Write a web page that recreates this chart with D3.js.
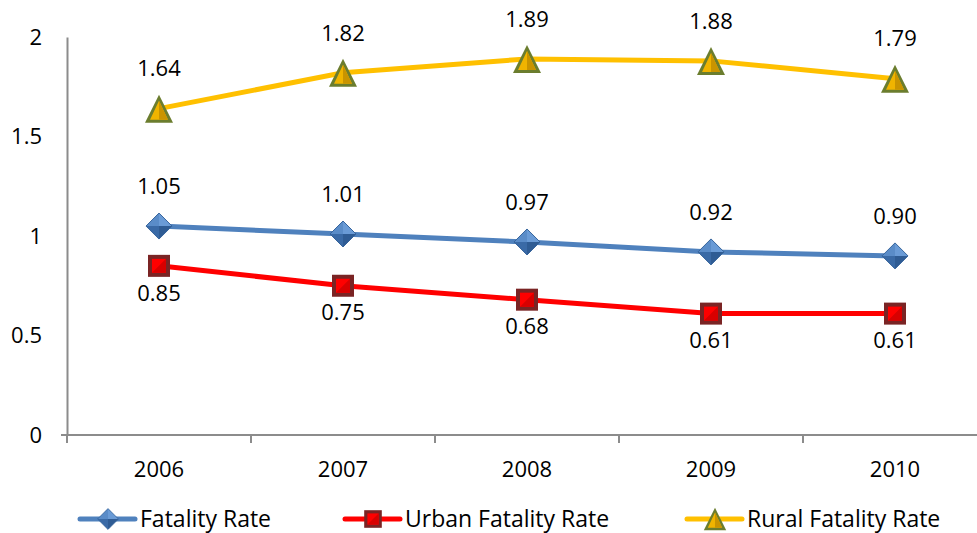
<!DOCTYPE html>
<html lang="en">
<head>
  <meta charset="UTF-8">
  <title>Fatality Rate</title>
  <script src="https://d3js.org/d3.v7.min.js"></script>
  <style>
    body { margin: 0; background: #fff; }
    text { font-family: 'Open Sans', 'Noto Sans', sans-serif; fill: #000; }
  </style>
</head>
<body>
<div class="canvas"></div>
<script>
  const years = ['2006', '2007', '2008', '2009', '2010']
  const fatality = [1.05, 1.01, 0.97, 0.92, 0.90]
  const urban = [0.85, 0.75, 0.68, 0.61, 0.61]
  const rural = [1.64, 1.82, 1.89, 1.88, 1.79]
  const yTicks = [0, 0.5, 1, 1.5, 2]

  const width = 977, height = 533

  const svg = d3.select('.canvas')
    .append('svg')
    .attr('width', width)
    .attr('height', height)

  const x = d3.scaleBand().domain(years).range([67, 987])
  const y = d3.scaleLinear().domain([0, 2]).range([435, 37])
  const cx = d => x(d) + x.bandwidth() / 2

  // axes
  const xAxis = svg.append('g')
    .attr('transform', 'translate(0,435)')
    .call(d3.axisBottom(x).tickSize(0).tickPadding(26))
  xAxis.select('.domain').attr('stroke', '#8c8c8c').attr('stroke-width', 2)
    .attr('d', 'M67,0H977')
  xAxis.selectAll('text').style('font-size', '22px')
  // tick marks at category boundaries
  xAxis.selectAll('.bound')
    .data(years)
    .enter()
    .append('line')
    .attr('x1', d => x(d)).attr('x2', d => x(d))
    .attr('y1', 0).attr('y2', 8)
    .attr('stroke', '#8c8c8c').attr('stroke-width', 2)

  const yAxis = svg.append('g')
    .attr('transform', 'translate(67,0)')
    .call(d3.axisLeft(y).tickValues(yTicks).tickFormat(d3.format('')).tickSize(0).tickPadding(25))
  yAxis.select('.domain').attr('stroke', '#8c8c8c').attr('stroke-width', 2)
  yAxis.selectAll('text').style('font-size', '22px')
  yAxis.append('line').attr('x1', -6).attr('x2', 0).attr('y1', 435).attr('y2', 435)
    .attr('stroke', '#8c8c8c').attr('stroke-width', 2)

  // marker drawers
  function diamond(g) {
    const r = 13
    g.append('path').attr('d', `M0,${-r}L${r},0L0,0Z`).attr('fill', '#6a9bd6')
    g.append('path').attr('d', `M${r},0L0,${r}L0,0Z`).attr('fill', '#2f5c94')
    g.append('path').attr('d', `M0,${r}L${-r},0L0,0Z`).attr('fill', '#3a6aa6')
    g.append('path').attr('d', `M${-r},0L0,${-r}L0,0Z`).attr('fill', '#5a8cc8')
    g.append('path').attr('d', `M0,${-r}L${r},0L0,${r}L${-r},0Z`).attr('fill', 'none')
      .attr('stroke', '#36649c').attr('stroke-width', 1)
  }
  function square(g) {
    const r = 11
    g.append('rect').attr('x', -r).attr('y', -r).attr('width', 2 * r).attr('height', 2 * r)
      .attr('fill', '#7a2424')
    g.append('rect').attr('x', -r + 4).attr('y', -r + 4).attr('width', 2 * r - 8).attr('height', 2 * r - 8)
      .attr('fill', '#ff0000')
    g.append('path').attr('d', `M${-r + 4},${r - 4}L${r - 4},${-r + 4}L${r - 4},${r - 4}Z`)
      .attr('fill', '#d80000')
  }
  function triangle(g) {
    const w = 14, h = 14
    g.append('path').attr('d', `M0,${-h}L${w},${h}L${-w},${h}Z`).attr('fill', '#6b7d2e')
    g.append('path').attr('d', `M0,${-h + 6}L${w - 5},${h - 3}L${-w + 5},${h - 3}Z`).attr('fill', '#f0b400')
    g.append('path').attr('d', `M0,${-h + 6}L${w - 5},${h - 3}L0,${h - 3}Z`).attr('fill', '#c99400')
  }

  const series = [
    { name: 'Fatality Rate', values: fatality, color: '#4f81bd', marker: diamond, dy: -40 },
    { name: 'Urban Fatality Rate', values: urban, color: '#ff0000', marker: square, dy: 27 },
    { name: 'Rural Fatality Rate', values: rural, color: '#ffc000', marker: triangle, dy: -40 }
  ]
  const fmt = d3.format('.2f')

  const line = d3.line().x(d => cx(d.year)).y(d => y(d.v))

  series.forEach(s => {
    const pts = years.map((yr, i) => ({ year: yr, v: s.values[i] }))
    svg.append('path')
      .datum(pts)
      .attr('d', line)
      .attr('fill', 'none')
      .attr('stroke', s.color)
      .attr('stroke-width', 5)
    svg.selectAll(null)
      .data(pts)
      .enter()
      .append('g')
      .attr('transform', d => `translate(${cx(d.year)},${y(d.v)})`)
      .each(function () { s.marker(d3.select(this)) })
    svg.selectAll(null)
      .data(pts)
      .enter()
      .append('text')
      .attr('x', d => cx(d.year))
      .attr('y', d => y(d.v) + s.dy)
      .attr('dy', '0.35em')
      .attr('text-anchor', 'middle')
      .style('font-size', '22px')
      .text(d => fmt(d.v))
  })

  // legend
  const legendX = [80, 345, 687]
  const legend = svg.selectAll('.legend')
    .data(series)
    .enter()
    .append('g')
    .attr('transform', (d, i) => `translate(${legendX[i]},519)`)
  legend.append('line')
    .attr('x1', 0).attr('x2', 55)
    .attr('stroke', d => d.color).attr('stroke-width', 5).attr('stroke-linecap', 'round')
  legend.append('g')
    .attr('transform', 'translate(28,0) scale(0.8)')
    .each(function (d) { d.marker(d3.select(this)) })
  legend.append('text')
    .attr('x', 60)
    .attr('dy', '0.35em')
    .style('font-size', '23px')
    .text(d => d.name)
</script>
</body>
</html>
